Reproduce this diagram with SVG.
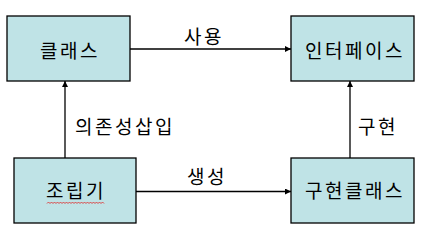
<svg xmlns="http://www.w3.org/2000/svg" width="425" height="241" viewBox="0 0 425 241">
<style>
.box{fill:#BFE3E6;stroke:#000;stroke-width:1.3}
.t{font-family:"Noto Sans CJK KR","Noto Sans CJK SC",sans-serif;font-size:19px;letter-spacing:2.5px;fill:#000;text-anchor:middle}
.c{stroke:#000;stroke-width:1.3;fill:none;marker-end:url(#ah)}
</style>
<defs>
<marker id="ah" viewBox="0 0 10 10" refX="10" refY="5" markerWidth="6" markerHeight="6" markerUnits="userSpaceOnUse" orient="auto">
<path d="M0,0 L10,5 L0,10 z" fill="#000"/>
</marker>
</defs>
<rect width="425" height="241" fill="#fff"/>
<g id="connectors">
<line class="c" x1="130" y1="49" x2="291" y2="49"/>
<line class="c" x1="136" y1="191.5" x2="291" y2="191.5"/>
<line class="c" x1="65" y1="158" x2="65" y2="81"/>
<line class="c" x1="350" y1="158" x2="350" y2="81"/>
<text class="t" x="204" y="44">사용</text>
<text class="t" x="125" y="134">의존성삽입</text>
<text class="t" x="378" y="134">구현</text>
<text class="t" x="207" y="184">생성</text>
</g>
<g id="node-class">
<rect class="box" x="7" y="16" width="123" height="65"/>
<text class="t" x="70" y="58">클래스</text>
</g>
<g id="node-interface">
<rect class="box" x="291" y="16" width="123" height="65"/>
<text class="t" x="355" y="58">인터페이스</text>
</g>
<g id="node-assembler">
<rect class="box" x="14" y="158" width="122" height="65"/>
<text class="t" x="76" y="198">조립기</text>
<path d="M47,203.5 l1.5,-1.5 l1.5,1.5 l1.5,-1.5 l1.5,1.5 l1.5,-1.5 l1.5,1.5 l1.5,-1.5 l1.5,1.5 l1.5,-1.5 l1.5,1.5 l1.5,-1.5 l1.5,1.5 l1.5,-1.5 l1.5,1.5 l1.5,-1.5 l1.5,1.5 l1.5,-1.5 l1.5,1.5 l1.5,-1.5 l1.5,1.5 l1.5,-1.5 l1.5,1.5 l1.5,-1.5 l1.5,1.5 l1.5,-1.5 l1.5,1.5 l1.5,-1.5 l1.5,1.5 l1.5,-1.5 l1.5,1.5 l1.5,-1.5 l1.5,1.5 l1.5,-1.5 l1.5,1.5 l1.5,-1.5 l1.5,1.5 l1.5,-1.5 l1.5,1.5" fill="none" stroke="#E02020" stroke-width="0.8"/>
</g>
<g id="node-impl">
<rect class="box" x="291" y="158" width="123" height="65"/>
<text class="t" x="355" y="198">구현클래스</text>
</g>
</svg>
